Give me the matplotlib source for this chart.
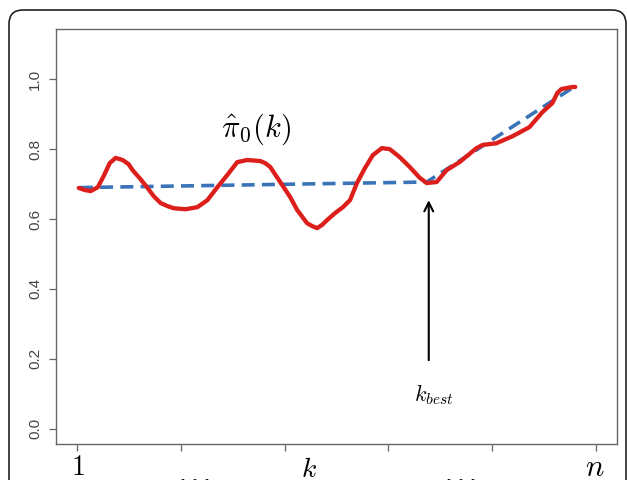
import matplotlib
matplotlib.use("Agg")
import matplotlib.pyplot as plt
from matplotlib.patches import FancyBboxPatch
from matplotlib.transforms import IdentityTransform, blended_transform_factory

plt.rcParams['mathtext.fontset'] = 'cm'
plt.rcParams['font.family'] = ['Liberation Sans', 'DejaVu Sans']

# red curve: estimated pi0_hat(k)
red_x = [0.019, 0.077, 0.134, 0.202, 0.259, 0.317, 0.374, 0.441, 0.499, 0.537,
         0.614, 0.681, 0.739, 0.806, 0.873, 0.931, 1.046, 1.161, 1.257, 1.353,
         1.449, 1.545, 1.641, 1.766, 1.814, 1.862, 1.958, 2.054, 2.121, 2.217,
         2.265, 2.313, 2.361, 2.409, 2.486, 2.562, 2.630, 2.697, 2.774, 2.850,
         2.937, 3.013, 3.109, 3.205, 3.301, 3.369, 3.464, 3.560, 3.685, 3.848,
         3.906, 4.040, 4.194, 4.357, 4.482, 4.578, 4.626, 4.664, 4.770, 4.798]
red_y = [0.689, 0.683, 0.680, 0.691, 0.723, 0.760, 0.775, 0.769, 0.757, 0.740,
         0.714, 0.689, 0.666, 0.646, 0.637, 0.631, 0.628, 0.634, 0.654, 0.691,
         0.726, 0.763, 0.769, 0.766, 0.760, 0.749, 0.706, 0.663, 0.626, 0.588,
         0.580, 0.574, 0.583, 0.597, 0.617, 0.634, 0.654, 0.703, 0.746, 0.783,
         0.803, 0.800, 0.777, 0.749, 0.718, 0.703, 0.706, 0.740, 0.763, 0.803,
         0.812, 0.817, 0.837, 0.863, 0.906, 0.932, 0.961, 0.972, 0.978, 0.978]

# blue dashed: piecewise fit
blue_x = [0.03, 3.369, 4.770]
blue_y = [0.690, 0.706, 0.975]

y_ticks = [0.0, 0.2, 0.4, 0.6, 0.8, 1.0]
y_ticklabels = ['0.0', '0.2', '0.4', '0.6', '0.8', '1.0']
x_ticks = [0, 1, 2, 3, 4, 5]

k_best = 3.388

fig = plt.figure(figsize=(6.27, 4.8), dpi=100)
ax = fig.add_axes([56/627, 36/480, 561/627, 415/480])

ax.plot(blue_x, blue_y, color='#3a73b8', lw=2.6, dashes=(3.6, 2.0), zorder=2)
ax.plot(red_x, red_y, color='#dd1f1c', lw=3.1, solid_joinstyle='round',
        solid_capstyle='round', zorder=3)

ax.set_xlim(-0.2, 5.2)
ax.set_ylim(-0.044, 1.144)
ax.set_yticks(y_ticks)
ax.set_yticklabels(y_ticklabels, rotation=90, va='center', fontsize=11, color='#444444')
ax.set_xticks(x_ticks)
ax.set_xticklabels([])
ax.tick_params(axis='both', direction='out', length=5, width=0.9, color='#666666', pad=5)
for s in ax.spines.values():
    s.set_color('#666666')
    s.set_linewidth(1.0)

# annotations
ax.text(1.727, 0.858, r'$\hat{\pi}_0(k)$', fontsize=22, ha='center', va='center')
ax.annotate('', xy=(k_best, 0.654), xytext=(k_best, 0.196),
            arrowprops=dict(arrowstyle='->', lw=1.5, color='black', mutation_scale=16,
                            shrinkA=0, shrinkB=0))
ax.text(3.436, 0.098, r'$k_{best}$', fontsize=16, ha='center', va='center')

# bottom labels
tr = blended_transform_factory(ax.transData, ax.transAxes)
ax.text(0.01, -0.074, r'$1$', fontsize=20, ha='center', va='baseline', transform=tr)
ax.text(2.236, -0.080, r'$k$', fontsize=20, ha='center', va='baseline', transform=tr)
ax.text(4.99, -0.077, r'$n$', fontsize=22, ha='center', va='baseline', transform=tr)
ax.text(1.123, -0.094, r'$\ldots$', fontsize=26, ha='center', va='baseline', transform=tr)
ax.text(3.676, -0.094, r'$\ldots$', fontsize=26, ha='center', va='baseline', transform=tr)

# outer rounded frame
frame = FancyBboxPatch((9, -40), 617, 510, boxstyle='round,pad=0,rounding_size=14',
                       transform=IdentityTransform(), fill=False, ec='#222222', lw=1.2)
fig.patches.append(frame)

fig.savefig('out.png', dpi=100)
